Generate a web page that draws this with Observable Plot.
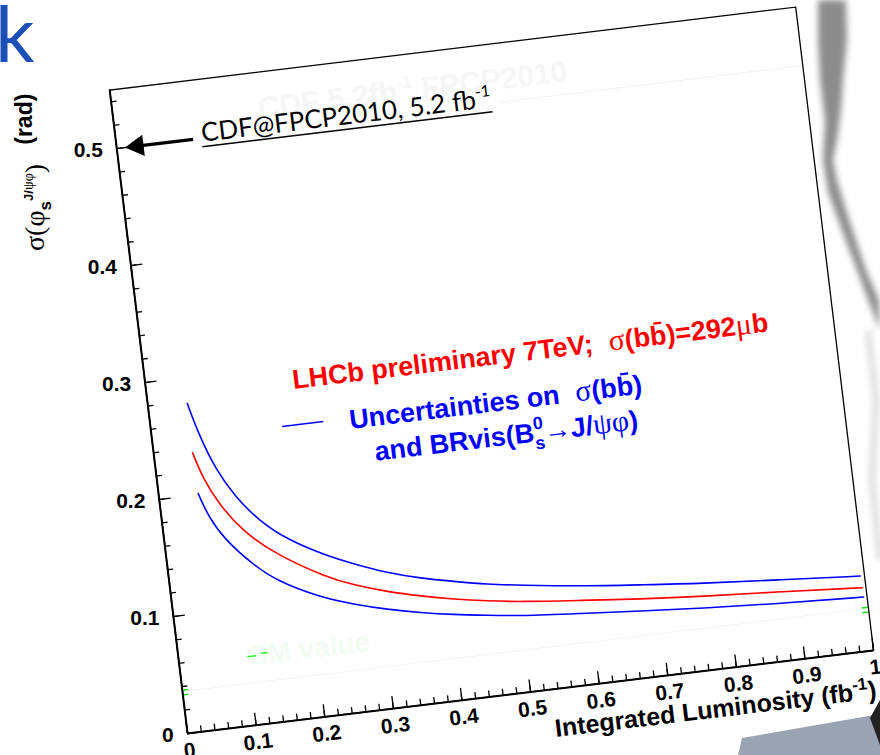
<!DOCTYPE html>
<html><head><meta charset="utf-8">
<script src="https://cdn.jsdelivr.net/npm/d3@7"></script>
<script src="https://cdn.jsdelivr.net/npm/@observablehq/plot@0.6"></script>
<style>
html,body{margin:0;padding:0;background:#fff;}
#wrap{position:relative;width:880px;height:755px;overflow:hidden;background:#fff;}
#deco{position:absolute;left:0;top:0;}
#kk{position:absolute;left:-5px;top:-7px;font:78px/1 Lato,'Open Sans',sans-serif;color:#1b4fb6;}
#ylab{position:absolute;left:10px;top:251px;transform:rotate(-90deg);transform-origin:0 0;white-space:nowrap;font:bold 23px/26px 'Liberation Sans',Arial,sans-serif;color:#000;}
#ylab .g{font-family:'Liberation Serif','DejaVu Serif',serif;font-weight:normal;font-size:28px;}
#ylab .f{position:relative;top:12px;}
#ylab .sb{position:relative;top:7px;font-size:17px;}
#ylab .sp{position:relative;top:-11px;font-size:13px;}
#ylab .sp .g{font-size:14px;}
#chart{position:absolute;left:117px;top:65px;transform-origin:70px 668px;transform:rotate(-6.9deg);}
</style></head>
<body><div id="wrap">
<svg id="deco" width="880" height="755">
  <defs><filter id="bl" x="-50%" y="-50%" width="200%" height="200%"><feGaussianBlur stdDeviation="3"/></filter></defs>
  <path d="M818 0 L846 0 L847 40 L843 80 L841 110 L837 140 L833 160 L837 180 L846 210 L856 240 L866 270 L879 300 L880 330 L870 305 L855 265 L840 225 L828 192 L823 160 L825 120 L820 80 L818 40 Z" fill="#8c8c8c" filter="url(#bl)"/>
  <path d="M868 330 L876 400 L872 480 L880 560" fill="none" stroke="#dadada" stroke-width="6" filter="url(#bl)"/>
  <path d="M738 755 L742 738 L880 714 L880 755 Z" fill="#9aa3b1"/>
  <path d="M870 718 L880 700 L880 745 Z" fill="#222"/>
</svg>
<div id="kk">k</div>
<div id="ylab"><span class="f"><span class="g">σ(φ</span><span class="sb">s</span><span class="sp">J/<span class="g">ψφ</span></span><span class="g">)</span></span>&nbsp;&nbsp;&nbsp;(rad)</div>
</div>
<script>
// ---- data ----
const upperLum   = [0.057,0.068,0.086,0.110,0.140,0.175,0.229,0.268,0.315,0.362,0.409,0.457,0.504,0.590,0.677,0.763,0.879,0.994];
const upperSigma = [0.278,0.251,0.220,0.194,0.172,0.154,0.136,0.126,0.115,0.107,0.101,0.095,0.091,0.084,0.079,0.074,0.069,0.064];
const centralLum   = [0.056,0.066,0.085,0.114,0.158,0.225,0.265,0.312,0.359,0.406,0.454,0.501,0.588,0.674,0.761,0.877,0.995];
const centralSigma = [0.236,0.214,0.190,0.165,0.142,0.118,0.108,0.099,0.092,0.086,0.081,0.077,0.072,0.067,0.063,0.059,0.054];
const lowerLum   = [0.057,0.068,0.088,0.123,0.153,0.215,0.261,0.309,0.356,0.403,0.451,0.499,0.586,0.672,0.759,0.875,0.995];
const lowerSigma = [0.201,0.180,0.159,0.136,0.120,0.101,0.092,0.084,0.078,0.073,0.069,0.065,0.061,0.057,0.053,0.049,0.046];
const xTicks = [0,0.1,0.2,0.3,0.4,0.5,0.6,0.7,0.8,0.9,1];
const yTicks = [0,0.1,0.2,0.3,0.4,0.5];
const cdfValue = 0.5;
const smValue = 0.036;
const labels = {
  red: "LHCb preliminary 7TeV; σ(bb)=292μb",
  blue1: "Uncertainties on σ(bb)",
  blue2: "and BRvis(B0s→J/ψφ)",
  cdf: "CDF@FPCP2010, 5.2 fb-1",
  xtitle: "Integrated Luminosity (fb-1)",
  faint: "CDF 5.2fb-1 FPCP2010",
  sm: "SM value"
};

const upper = upperLum.map((x,i)=>({lum:x, sigma:upperSigma[i]}));
const central = centralLum.map((x,i)=>({lum:x, sigma:centralSigma[i]}));
const lower = lowerLum.map((x,i)=>({lum:x, sigma:lowerSigma[i]}));
const xMinor = d3.range(0, 1.001, 0.02);
const yMinor = d3.range(0, 0.5401, 0.02);

const sans = "'Liberation Sans', Arial, sans-serif";
const serif = "'Liberation Serif','DejaVu Serif',serif";
const BLUE = "#0000ff", RED = "#ff0000";

const plot = Plot.plot({
  width: 791, height: 738,
  marginLeft: 70, marginRight: 30, marginTop: 20, marginBottom: 70,
  x: {domain: [0, 1], label: null},
  y: {domain: [0, 0.55], label: null},
  style: {background: "transparent", fontFamily: sans, overflow: "visible", color: "black"},
  marks: [
    Plot.ruleY([cdfValue], {x1: 0.56, x2: 1, stroke: "#f1f1f1"}),
    Plot.text([labels.faint], {x: 0.21, y: 0.511, text: d => d, textAnchor: "start", lineAnchor: "bottom", fontSize: 30, fontWeight: "bold", fill: "#f6f6f6"}),
    Plot.ruleY([smValue], {stroke: "#ecf7ec"}),
    Plot.text([labels.sm], {x: 0.102, y: 0.051, text: d => d, textAnchor: "start", lineAnchor: "bottom", fontSize: 28, fontWeight: "bold", fill: "#f3fcf3"}),
    Plot.ruleY([smValue + 0.001, smValue - 0.003], {x1: 0, x2: 0.009, stroke: "#22dd22", strokeWidth: 1.5}),
    Plot.ruleY([smValue + 0.001, smValue - 0.003], {x1: 0.991, x2: 1, stroke: "#22dd22", strokeWidth: 1.5}),
    Plot.ruleY([0.0585], {x1: 0.100, x2: 0.113, stroke: "#33ee33", strokeWidth: 1.5}),
    Plot.ruleY([0.0600], {x1: 0.120, x2: 0.130, stroke: "#33ee33", strokeWidth: 1.5}),
    // curves
    Plot.line(upper, {x: "lum", y: "sigma", stroke: BLUE, strokeWidth: 1.6, curve: "basis"}),
    Plot.line(central, {x: "lum", y: "sigma", stroke: RED, strokeWidth: 1.6, curve: "basis"}),
    Plot.line(lower, {x: "lum", y: "sigma", stroke: BLUE, strokeWidth: 1.6, curve: "basis"}),
    // ticks (inward)
    Plot.tickX(xMinor, {x: d => d, insetTop: 642, stroke: "black", strokeWidth: 1.3}),
    Plot.tickX(xTicks, {x: d => d, insetTop: 636, stroke: "black", strokeWidth: 1.3}),
    Plot.tickY(yMinor, {y: d => d, insetRight: 685, stroke: "black", strokeWidth: 1.3}),
    Plot.tickY(yTicks, {y: d => d, insetRight: 679, stroke: "black", strokeWidth: 1.3}),
    Plot.axisX(xTicks, {tickSize: 0, tickPadding: 9, fontSize: 21, fontWeight: "bold", tickFormat: String, label: null}),
    Plot.axisY(yTicks, {tickSize: 0, tickPadding: 14, fontSize: 21, fontWeight: "bold", tickRotate: 6.9, tickFormat: String, label: null}),
    Plot.frame({stroke: "black", strokeWidth: 1.3}),
    Plot.ruleY([0], {stroke: "black", strokeWidth: 2}),
    Plot.ruleX([0], {stroke: "black", strokeWidth: 2}),
    // CDF annotation
    Plot.ruleY([cdfValue], {x1: 0.03, x2: 0.112, stroke: "black", strokeWidth: 3.2}),
    Plot.dot([cdfValue], {x: 0.03, y: d => d, symbol: "triangle", rotate: -90, r: 8, fill: "black", stroke: "none"}),
    Plot.text([labels.cdf], {x: 0.124, y: 0.497, text: d => d, textAnchor: "start", lineAnchor: "bottom", fontSize: 26, fontFamily: "Lato, 'Open Sans', sans-serif", fontWeight: "normal", fill: "black"}),
    Plot.ruleY([0.4928], {x1: 0.124, x2: 0.547, stroke: "black", strokeWidth: 1.5}),
    // legend
    Plot.text([labels.red], {x: 0.212, y: 0.2795, text: d => d, textAnchor: "start", lineAnchor: "bottom", fontSize: 27, fontWeight: "bold", fill: RED}),
    Plot.ruleY([0.249], {x1: 0.19, x2: 0.25, stroke: BLUE, strokeWidth: 1.6}),
    Plot.text([labels.blue1], {x: 0.287, y: 0.240, text: d => d, textAnchor: "start", lineAnchor: "bottom", fontSize: 27, fontWeight: "bold", fill: BLUE}),
    Plot.text([labels.blue2], {x: 0.3176, y: 0.2105, text: d => d, textAnchor: "start", lineAnchor: "bottom", fontSize: 27, fontWeight: "bold", fill: BLUE}),
    // x title
    Plot.text([labels.xtitle], {x: 0.997, y: -0.0405, text: d => d, textAnchor: "end", lineAnchor: "bottom", fontSize: 25, fontWeight: "bold", fill: "black"})
  ]
});

// rich text (greek in serif, sub/superscripts)
const G = {"font-family": serif, "font-weight": "normal"};
const rich = {
  [labels.red]: [{t: "LHCb preliminary 7TeV;"}, {t: "σ", dx: 16, ...G, "font-size": 30}, {t: "(bb\u0304)=292"}, {t: "μ", ...G, "font-size": 30}, {t: "b"}],
  [labels.blue1]: [{t: "Uncertainties on"}, {t: "σ", dx: 16, ...G, "font-size": 30}, {t: "(bb\u0304)"}],
  [labels.blue2]: [{t: "and BRvis(B"}, {t: "0", "font-size": 18, dy: -12}, {t: "s", "font-size": 18, dx: -10, dy: 20}, {t: "→", ...G, "font-size": 27, dy: -8}, {t: "J/"}, {t: "ψφ", ...G, "font-size": 30}, {t: ")"}],
  [labels.cdf]: [{t: "CDF@FPCP2010, 5.2 fb"}, {t: "-1", "font-size": 16, dy: -11}],
  [labels.xtitle]: [{t: "Integrated Luminosity (fb"}, {t: "-1", "font-size": 17, dy: -10}, {t: ")", dy: 10}],
  [labels.faint]: [{t: "CDF 5.2fb"}, {t: "-1", "font-size": 18, dy: -12}, {t: " FPCP2010", dy: 12}]
};
const NS = "http://www.w3.org/2000/svg";
plot.querySelectorAll("text").forEach(el => {
  const segs = rich[el.textContent];
  if (!segs) return;
  while (el.firstChild) el.removeChild(el.firstChild);
  for (const s of segs) {
    const ts = document.createElementNS(NS, "tspan");
    ts.textContent = s.t;
    for (const k in s) if (k !== "t") ts.setAttribute(k, s[k]);
    el.appendChild(ts);
  }
});

plot.id = "chart";
document.getElementById("wrap").appendChild(plot);
</script>
</body></html>
